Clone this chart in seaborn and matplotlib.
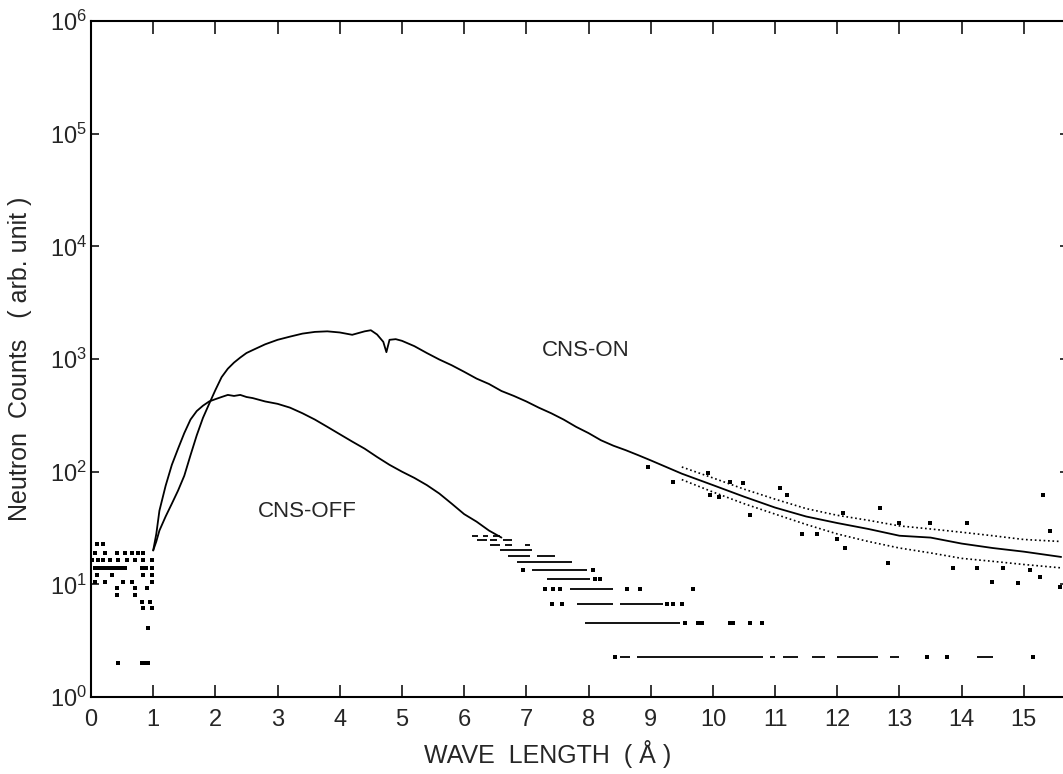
import numpy as np
import matplotlib
matplotlib.use('Agg')
import matplotlib.pyplot as plt
from matplotlib.ticker import NullLocator
import seaborn as sns

sns.set_style("ticks")
plt.rcParams['font.family'] = ['Liberation Sans', 'DejaVu Sans']
plt.rcParams['mathtext.fontset'] = 'custom'
plt.rcParams['mathtext.rm'] = 'Liberation Sans'
plt.rcParams['mathtext.it'] = 'Liberation Sans'
plt.rcParams['mathtext.default'] = 'regular'

# ---------------------------------------------------------
# Data
# ---------------------------------------------------------
# CNS-ON (cold neutron source on)
on_x = [1.0, 1.05, 1.1, 1.2, 1.3, 1.4, 1.5, 1.6, 1.7, 1.8, 1.9, 2.0, 2.1, 2.2, 2.3,
        2.4, 2.5, 2.6, 2.8, 3.0, 3.2, 3.4, 3.6, 3.8, 4.0, 4.2, 4.4, 4.5, 4.6, 4.7,
        4.75, 4.8, 4.9, 5.0, 5.2, 5.4, 5.6, 5.8, 6.0, 6.2, 6.4, 6.6, 6.8, 7.0, 7.2,
        7.4, 7.6, 7.8, 8.0, 8.2, 8.4, 8.6, 8.8, 9.0, 9.5, 10.0, 10.5, 11.0, 11.5,
        12.0, 12.5, 13.0, 13.5, 14.0, 14.5, 15.0, 15.6]
on_y = [20, 24, 30, 40, 52, 68, 92, 140, 210, 300, 400, 530, 690, 820, 930,
        1030, 1130, 1200, 1350, 1480, 1580, 1680, 1740, 1760, 1720, 1640, 1760, 1800, 1650, 1420,
        1150, 1480, 1500, 1450, 1300, 1130, 990, 880, 770, 670, 600, 520, 470, 420, 370,
        330, 290, 250, 220, 190, 170, 155, 140, 126, 96, 76, 60, 48, 40,
        35, 31, 27, 26, 23, 21, 19.5, 17.5]

# scatter band of the CNS-ON tail
on_band_x = [9.5, 10.0, 10.5, 11.0, 11.5, 12.0, 12.5, 13.0, 13.5, 14.0, 14.5, 15.0, 15.6]
on_band_lo = [85, 66, 52, 42, 34, 28, 24, 21, 19, 17, 16, 15, 14]
on_band_hi = [110, 88, 70, 57, 47, 41, 37, 33, 31, 29, 27, 25, 24]
on_dot_x = [8.96, 9.36, 9.92, 9.95, 10.1, 10.27, 10.48, 10.6, 11.08, 11.19, 11.43, 11.67,
            12.0, 12.09, 12.12, 12.68, 12.81, 13.0, 13.49, 13.86, 14.08, 14.24, 14.49,
            14.66, 14.9, 15.1, 15.26, 15.3, 15.42, 15.58]
on_dot_y = [110, 81, 98, 62, 59, 81, 79, 41, 71, 62, 28, 28,
            25, 43, 21, 48, 15.5, 35, 35, 14, 35, 14, 10.5,
            14, 10.3, 13.4, 11.6, 62, 30, 9.5]

# CNS-OFF
off_x = [1.0, 1.05, 1.1, 1.2, 1.3, 1.4, 1.5, 1.6, 1.7, 1.8, 1.9, 2.0, 2.1, 2.2, 2.3,
         2.4, 2.5, 2.6, 2.8, 3.0, 3.2, 3.4, 3.6, 3.8, 4.0, 4.2, 4.4, 4.6, 4.8, 5.0,
         5.2, 5.4, 5.6, 5.8, 6.0, 6.2, 6.4, 6.6]
off_y = [20, 28, 45, 75, 115, 160, 220, 290, 345, 385, 420, 440, 460, 480, 470,
         480, 460, 450, 420, 400, 370, 330, 290, 250, 215, 185, 160, 135, 115, 100,
         88, 76, 64, 52, 42, 36, 30, 26]

# quantised counts in the CNS-OFF tail: level, start, end
off_seg_level = [2.25, 2.25, 2.25, 2.25, 2.25, 2.25, 2.25, 2.25,
                 4.5, 6.75, 6.75, 9.0, 11.25, 13.5, 15.75, 18.0, 18.0, 20.25,
                 22.5, 22.5, 22.5, 24.75, 24.75, 24.75, 27.0, 27.0, 27.0]
off_seg_x0 = [8.50, 8.78, 10.92, 11.13, 11.59, 11.99, 12.85, 14.24,
              7.94, 7.81, 8.50, 7.70, 7.33, 7.09, 6.85, 6.70, 7.17, 6.58,
              6.41, 6.66, 6.98, 6.20, 6.41, 6.62, 6.13, 6.30, 6.46]
off_seg_x1 = [8.67, 10.80, 11.00, 11.37, 11.80, 12.65, 13.00, 14.50,
              9.47, 8.39, 9.20, 8.39, 8.02, 7.97, 7.73, 7.06, 7.46, 7.09,
              6.58, 6.77, 7.06, 6.37, 6.53, 6.77, 6.22, 6.38, 6.58]
off_dot_x = [8.42, 13.44, 13.76, 15.14,
             9.55, 9.76, 9.82, 10.27, 10.32, 10.6, 10.79,
             7.41, 7.57, 9.26, 9.36, 9.50,
             7.30, 7.43, 7.54, 8.62, 8.83, 9.68,
             8.10, 8.18, 6.95, 8.07]
off_dot_y = [2.25, 2.25, 2.25, 2.25,
             4.5, 4.5, 4.5, 4.5, 4.5, 4.5, 4.5,
             6.75, 6.75, 6.75, 6.75, 6.75,
             9.0, 9.0, 9.0, 9.0, 9.0, 9.0,
             11.25, 11.25, 13.5, 13.5]

# background below 1 A
bg_x = [0.10, 0.19,
        0.06, 0.23, 0.42, 0.55, 0.66, 0.76, 0.84,
        0.02, 0.11, 0.19, 0.31, 0.43, 0.58, 0.71, 0.84, 0.98,
        0.06, 0.12, 0.18, 0.24, 0.30, 0.36, 0.42, 0.48, 0.55, 0.82, 0.88, 0.98,
        0.10, 0.34, 0.84, 0.98,
        0.06, 0.23, 0.51, 0.66, 0.98,
        0.42, 0.71, 0.90,
        0.42, 0.71,
        0.82, 0.95,
        0.84, 0.98,
        0.92,
        0.43, 0.82, 0.87, 0.92]
bg_y = [23, 23,
        19, 19, 19, 19, 19, 19, 19,
        16.4, 16.4, 16.4, 16.4, 16.4, 16.4, 16.4, 16.4, 16.4,
        14, 14, 14, 14, 14, 14, 14, 14, 14, 14, 14, 14,
        12, 12, 12, 12,
        10.5, 10.5, 10.5, 10.5, 10.5,
        9.3, 9.3, 9.3,
        8, 8,
        7, 7,
        6.2, 6.2,
        4.1,
        2, 2, 2, 2]

x_ticks = list(range(0, 16))
y_ticks = [1, 10, 100, 1000, 10000, 100000, 1000000]
y_labels = [r'$10^{0}$', r'$10^{1}$', r'$10^{2}$', r'$10^{3}$',
            r'$10^{4}$', r'$10^{5}$', r'$10^{6}$']

# ---------------------------------------------------------
# Plot
# ---------------------------------------------------------
fig = plt.figure(figsize=(10.63, 7.74), dpi=100)
ax = fig.add_axes([91 / 1063, 1 - 697 / 774, (1068 - 91) / 1063, (697 - 21) / 774])

sns.lineplot(x=on_x, y=on_y, ax=ax, color='black', linewidth=1.3)
sns.lineplot(x=on_band_x, y=on_band_lo, ax=ax, color='black', linewidth=1.2, linestyle=':')
sns.lineplot(x=on_band_x, y=on_band_hi, ax=ax, color='black', linewidth=1.2, linestyle=':')
sns.scatterplot(x=on_dot_x, y=on_dot_y, ax=ax, color='black', marker='s', s=5, linewidth=0)

sns.lineplot(x=off_x, y=off_y, ax=ax, color='black', linewidth=1.3)
ax.hlines(off_seg_level, off_seg_x0, off_seg_x1, colors='black', linewidth=1.3)
sns.scatterplot(x=off_dot_x, y=off_dot_y, ax=ax, color='black', marker='s', s=5, linewidth=0)

sns.scatterplot(x=bg_x, y=bg_y, ax=ax, color='black', marker='s', s=6, linewidth=0)

ax.set_yscale('log')
ax.set_xlim(0, 15.71)
ax.set_ylim(1, 1e6)
ax.set_xticks(x_ticks)
ax.set_xticklabels([str(t) for t in x_ticks])
ax.set_yticks(y_ticks)
ax.set_yticklabels(y_labels)
ax.yaxis.set_minor_locator(NullLocator())
ax.xaxis.set_minor_locator(NullLocator())

ax.tick_params(axis='x', which='major', direction='in', length=9, width=1.3,
               top=True, labelsize=17, pad=9)
ax.tick_params(axis='y', which='major', direction='in', length=6, width=1.3,
               right=True, labelsize=17, pad=3)
for sp in ax.spines.values():
    sp.set_linewidth(1.5)
    sp.set_color('black')

ax.set_xlabel('WAVE  LENGTH  ( Å )', fontsize=18)
ax.xaxis.set_label_coords(0.467, -0.063)
ax.set_ylabel('Neutron  Counts   ( arb. unit )', fontsize=18)
ax.yaxis.set_label_coords(-0.060, 0.5)

ax.text(7.25, 1180, 'CNS-ON', fontsize=16, ha='left', va='center')
ax.text(2.68, 44, 'CNS-OFF', fontsize=16, ha='left', va='center')

fig.savefig('out.png', dpi=100)
plt.close(fig)
